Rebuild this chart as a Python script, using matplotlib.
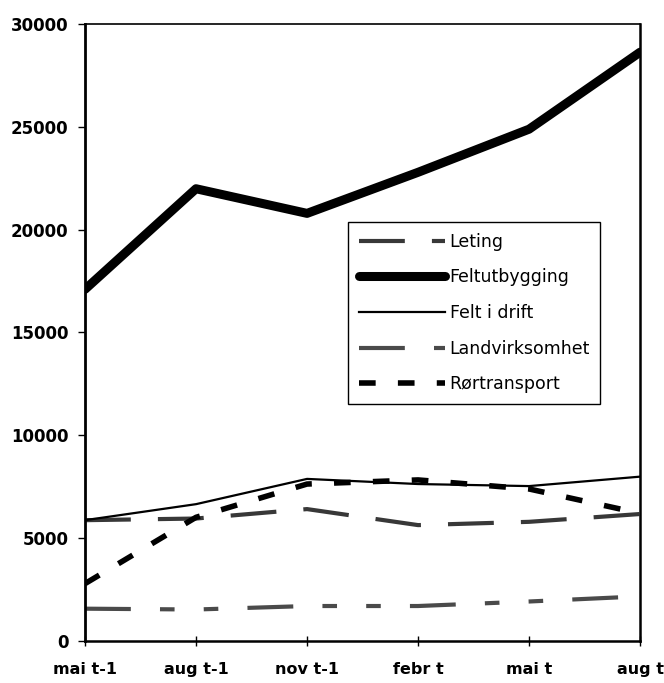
import matplotlib
matplotlib.use('Agg')
import matplotlib.pyplot as plt

plt.rcParams['font.family'] = ['DejaVu Sans']

periods = ['mai t-1', 'aug t-1', 'nov t-1', 'febr t', 'mai t', 'aug t']
leting = [5860, 5940, 6400, 5620, 5780, 6160]
feltutbygging = [17100, 22000, 20800, 22800, 24900, 28650]
felt_i_drift = [5860, 6640, 7870, 7620, 7520, 7980]
landvirksomhet = [1550, 1510, 1680, 1680, 1900, 2150]
rortransport = [2770, 6000, 7620, 7820, 7380, 6190]


def main():
    fig = plt.figure(figsize=(6.64, 6.83), dpi=100)
    ax = fig.add_axes([0.128, 0.0622, 0.836, 0.902])
    x = range(len(periods))

    ax.plot(x, leting, color='#383838', lw=3, dashes=(11, 6.5),
            label='Leting')
    ax.plot(x, feltutbygging, color='black', lw=6.5,
            solid_capstyle='round', label='Feltutbygging')
    ax.plot(x, felt_i_drift, color='black', lw=1.6, label='Felt i drift')
    ax.plot(x, landvirksomhet, color='#4a4a4a', lw=3,
            dashes=(11, 7, 3.5, 7, 3.5, 7), label='Landvirksomhet')
    ax.plot(x, rortransport, color='black', lw=4, dashes=(3, 4),
            label='Rørtransport')

    ax.set_xlim(0, len(periods) - 1)
    ax.set_ylim(0, 30000)
    ax.set_yticks(range(0, 30001, 5000))
    ax.set_xticks(list(x))
    ax.set_xticklabels(periods)
    ax.tick_params(axis='y', direction='out', length=5, width=1, pad=7,
                   labelsize=12)
    ax.tick_params(axis='x', direction='inout', length=7, width=1, pad=12,
                   labelsize=11.5)
    for lab in ax.get_xticklabels() + ax.get_yticklabels():
        lab.set_fontweight('bold')
    for s in ax.spines.values():
        s.set_linewidth(1.2)
    ax.spines['left'].set_linewidth(2)
    ax.spines['bottom'].set_linewidth(1.8)
    ax.spines['right'].set_linewidth(1.8)

    leg = ax.legend(loc='upper left', bbox_to_anchor=(0.474, 0.679),
                    borderaxespad=0, fontsize=12.5, handlelength=5.0,
                    handletextpad=0.25, labelspacing=1.02, borderpad=0.6,
                    fancybox=False, framealpha=1, edgecolor='black')
    leg.get_frame().set_linewidth(1)

    fig.savefig('out.png', dpi=100)


if __name__ == '__main__':
    main()
